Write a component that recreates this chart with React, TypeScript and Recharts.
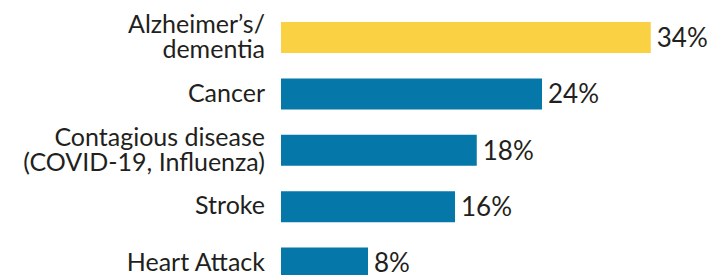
import { BarChart, Bar, XAxis, YAxis, Cell, LabelList } from "recharts";

const categories = [
  "Alzheimer’s/\ndementia",
  "Cancer",
  "Contagious disease\n(COVID-19, Influenza)",
  "Stroke",
  "Heart Attack",
];
const values = [34, 24, 18, 16, 8];
const barColors = ["#F9D142", "#0677A9", "#0677A9", "#0677A9", "#0677A9"];

const data = categories.map((name, i) => ({ name, value: values[i] }));

const FONT = "Lato, 'Open Sans', sans-serif";
const TEXT = "#231F20";

const CategoryTick = (props: any) => {
  const { x, y, payload } = props;
  const lines: string[] = String(payload.value).split("\n");
  const lineH = 25;
  const start = -((lines.length - 1) * lineH) / 2;
  return (
    <text
      x={x - 16}
      y={y}
      textAnchor="end"
      fill={TEXT}
      fontSize={25}
      fontFamily={FONT}
    >
      {lines.map((l, i) => (
        <tspan key={i} x={x - 16} dy={i === 0 ? start + 8 : lineH}>
          {l}
        </tspan>
      ))}
    </text>
  );
};

const App = () => {
  return (
    <div
      style={{
        position: "absolute",
        top: 0,
        left: 0,
        width: 726,
        height: 275,
        overflow: "hidden",
        background: "#fff",
      }}
    >
      <BarChart
        width={726}
        height={291}
        data={data}
        layout="vertical"
        margin={{ top: 9, right: 10, left: 0, bottom: 0 }}
      >
        <XAxis type="number" domain={[0, 40]} hide />
        <YAxis
          type="category"
          dataKey="name"
          width={281}
          axisLine={false}
          tickLine={false}
          tickSize={0}
          tickMargin={0}
          interval={0}
          tick={<CategoryTick />}
        />
        <Bar dataKey="value" barSize={31} isAnimationActive={false}>
          {data.map((_, i) => (
            <Cell key={i} fill={barColors[i]} />
          ))}
          <LabelList
            dataKey="value"
            position="right"
            offset={6}
            formatter={(v: any) => `${v}%`}
            fill={TEXT}
            fontSize={26}
            fontFamily={FONT}
          />
        </Bar>
      </BarChart>
    </div>
  );
};

export default App;
